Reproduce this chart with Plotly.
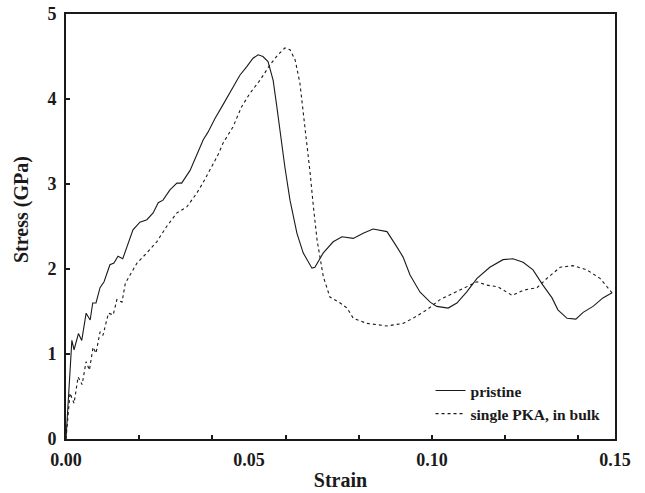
import plotly.graph_objects as go

# Pristine (solid)
strain_pristine = [0.0, 0.0016, 0.0022, 0.0034, 0.0043, 0.0055, 0.0066, 0.0073, 0.0082, 0.0093,
                   0.0104, 0.012, 0.0131, 0.0142, 0.0155, 0.0166, 0.0183, 0.0202, 0.0221, 0.0238,
                   0.0252, 0.0265, 0.0284, 0.0303, 0.0316, 0.0339, 0.0358, 0.0375, 0.0388, 0.0407,
                   0.0426, 0.044, 0.0456, 0.0475, 0.0494, 0.0511, 0.0525, 0.0538, 0.0552, 0.0566,
                   0.0576, 0.0585, 0.0598, 0.0612, 0.0631, 0.0648, 0.0672, 0.068, 0.0703, 0.073,
                   0.0754, 0.0785, 0.0812, 0.0839, 0.0877, 0.0904, 0.0921, 0.094, 0.0967, 0.0995,
                   0.1013, 0.1044, 0.1068, 0.1095, 0.1123, 0.1158, 0.1194, 0.1221, 0.1249, 0.1276,
                   0.1303, 0.1328, 0.1344, 0.1369, 0.1393, 0.1413, 0.144, 0.1467, 0.1492]
stress_pristine = [0.0, 1.16, 1.05, 1.24, 1.16, 1.48, 1.40, 1.60, 1.60, 1.78,
                   1.85, 2.05, 2.07, 2.15, 2.12, 2.26, 2.46, 2.55, 2.58, 2.66,
                   2.78, 2.81, 2.93, 3.01, 3.01, 3.16, 3.36, 3.52, 3.61, 3.77,
                   3.91, 4.02, 4.13, 4.28, 4.38, 4.48, 4.52, 4.50, 4.44, 4.22,
                   3.91, 3.60, 3.20, 2.81, 2.42, 2.19, 2.01, 2.02, 2.19, 2.32,
                   2.38, 2.36, 2.42, 2.47, 2.44, 2.26, 2.14, 1.93, 1.73, 1.61,
                   1.56, 1.54, 1.60, 1.73, 1.89, 2.02, 2.11, 2.12, 2.08, 1.99,
                   1.81, 1.66, 1.52, 1.42, 1.41, 1.49, 1.56, 1.66, 1.72]

# Single PKA, in bulk (dashed)
strain_pka = [0.0, 0.0011, 0.0022, 0.0033, 0.0044, 0.0055, 0.0064, 0.0074, 0.0082, 0.0093,
              0.0101, 0.0116, 0.0129, 0.0139, 0.0153, 0.0162, 0.0175, 0.0194, 0.0221, 0.0248,
              0.0275, 0.0303, 0.033, 0.0357, 0.0375, 0.0393, 0.0415, 0.0429, 0.0456, 0.048,
              0.0503, 0.053, 0.0557, 0.0579, 0.0598, 0.0612, 0.0626, 0.0639, 0.0648, 0.0658,
              0.0667, 0.0676, 0.0686, 0.0703, 0.0721, 0.0749, 0.0768, 0.0785, 0.0822, 0.0877,
              0.0921, 0.0948, 0.0986, 0.1022, 0.1057, 0.1095, 0.1123, 0.115, 0.118, 0.1219,
              0.1249, 0.1287, 0.1314, 0.135, 0.1385, 0.1423, 0.1459, 0.1492]
stress_pka = [0.0, 0.54, 0.42, 0.73, 0.64, 0.91, 0.81, 1.08, 1.01, 1.26,
              1.22, 1.48, 1.46, 1.64, 1.61, 1.83, 1.93, 2.07, 2.19, 2.32,
              2.50, 2.66, 2.73, 2.89, 3.02, 3.16, 3.34, 3.48, 3.67, 3.91,
              4.07, 4.22, 4.40, 4.52, 4.60, 4.58, 4.46, 4.19, 3.87, 3.52,
              3.13, 2.73, 2.34, 1.91, 1.67, 1.60, 1.54, 1.42, 1.36, 1.33,
              1.36, 1.42, 1.52, 1.64, 1.71, 1.79, 1.85, 1.81, 1.79, 1.69,
              1.75, 1.78, 1.89, 2.02, 2.04, 1.99, 1.89, 1.72]

x_label_vals = [0.0, 0.05, 0.10, 0.15]
x_label_text = ["0.00", "0.05", "0.10", "0.15"]
x_minor_ticks = [0.02, 0.04, 0.06, 0.08, 0.10, 0.12, 0.14]
y_tick_vals = [0, 1, 2, 3, 4, 5]
y_tick_text = ["0", "1", "2", "3", "4", "5"]

FONT = "Liberation Serif"
INK = "#1a1a1a"

fig = go.Figure()
fig.add_trace(go.Scatter(x=strain_pristine, y=stress_pristine, mode="lines", name="<b>pristine</b>",
                         line=dict(color=INK, width=1.1)))
fig.add_trace(go.Scatter(x=strain_pka, y=stress_pka, mode="lines", name="<b>single PKA, in bulk</b>",
                         line=dict(color=INK, width=1.1, dash="3px,3px")))
# invisible trace on overlay axis to carry inside minor ticks
fig.add_trace(go.Scatter(x=[0, 0.15], y=[0, 0], xaxis="x2", mode="lines",
                         line=dict(width=0), showlegend=False, hoverinfo="skip"))

fig.update_layout(
    width=645, height=493,
    margin=dict(l=66, r=30, t=14, b=54, autoexpand=False),
    paper_bgcolor="white", plot_bgcolor="white",
    font=dict(family=FONT, color=INK),
    showlegend=True,
    legend=dict(x=0.664, y=0.019, xanchor="left", yanchor="bottom",
                bgcolor="rgba(0,0,0,0)", font=dict(family=FONT, size=15.5, color=INK),
                tracegroupgap=0, itemwidth=30),
    xaxis=dict(range=[0, 0.15], tickvals=x_label_vals,
               ticktext=["<b>" + t + "</b>" for t in x_label_text],
               ticks="", showgrid=False, zeroline=False, automargin=False,
               showline=True, linecolor=INK, linewidth=2, mirror=True,
               ticklabelstandoff=3,
               tickfont=dict(family=FONT, size=18, color=INK),
               title=dict(text="<b>Strain</b>", font=dict(family=FONT, size=20, color=INK), standoff=4)),
    xaxis2=dict(range=[0, 0.15], overlaying="x", tickvals=x_minor_ticks, ticks="inside",
                ticklen=4, tickwidth=1.5, tickcolor=INK, showticklabels=False, automargin=False,
                showgrid=False, zeroline=False, showline=False, side="bottom"),
    yaxis=dict(range=[0, 5], tickvals=y_tick_vals,
               ticktext=["<b>" + t + "</b>" for t in y_tick_text],
               ticks="inside", ticklen=4, tickwidth=1.5,
               tickcolor=INK, showgrid=False, zeroline=False, automargin=False,
               showline=True, linecolor=INK, linewidth=2, mirror=True,
               tickfont=dict(family=FONT, size=18, color=INK),
               ticklabelstandoff=4),
    annotations=[dict(text="<b>Stress (GPa)</b>", xref="paper", yref="paper",
                      x=-0.080, y=0.539, xanchor="center", yanchor="middle", textangle=-90,
                      showarrow=False, font=dict(family=FONT, size=20, color=INK))],
)

fig.write_html("out.html")
